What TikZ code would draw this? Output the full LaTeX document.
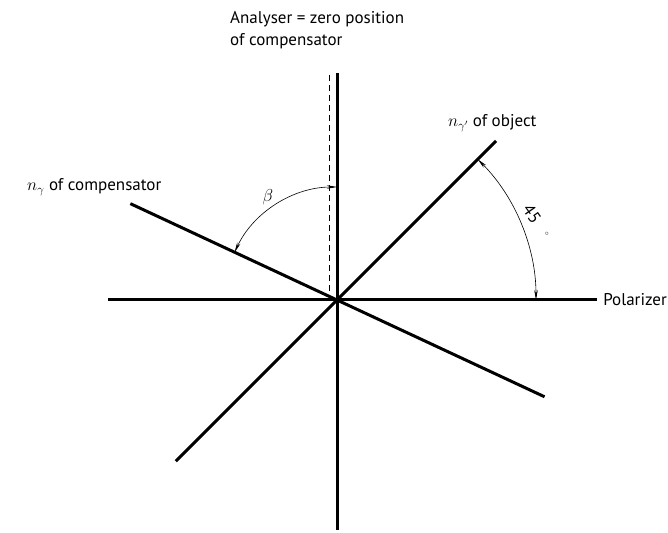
\documentclass[tikz,border=0pt]{standalone}
\usepackage{fontspec}
\setmainfont{PT Sans}
\usepackage{amsmath}
\usepackage{tikz}
\usetikzlibrary{arrows.meta}
\tikzset{
  every picture/.style={line join=round, >=Stealth},
  axis/.style={line width=3pt},
  angarc/.style={line width=0.6pt, {Stealth[length=10pt,width=3.5pt]}-{Stealth[length=10pt,width=3.5pt]}},
  lbl/.style={font=\fontsize{17}{22}\selectfont, inner sep=0pt},
}
\begin{document}
\begin{tikzpicture}[x=1pt,y=1pt]
\useasboundingbox (-337,-232) rectangle (331,300);
\coordinate (O) at (0,0);
\coordinate (polL) at (-229,0);
\coordinate (polR) at (260,0);
\coordinate (anaT) at (0,227);
\coordinate (anaB) at (0,-230);
\coordinate (zeroT) at (-8,225);
\coordinate (zeroB) at (-8,0);
\coordinate (compL) at (155:228);
\coordinate (compR) at (-25:229);
\coordinate (objT) at (45:225);
\coordinate (objB) at (225:228);
% axes
\draw[axis](polL)--(polR);
\draw[axis](anaT)--(anaB);
\draw[axis](compL)--(compR);
\draw[axis](objB)--(objT);
\draw[line width=1pt,dash pattern=on 6pt off 4pt](zeroT)--(zeroB);
% angles
\draw[angarc](90:113)arc[start angle=90,end angle=155,radius=113];
\draw[angarc](45:199)arc[start angle=45,end angle=0,radius=199];
\node[lbl] (beta) at (-69,103) {$\beta$};
\node[lbl,rotate=-55] (fortyfive) at (195,86) {45};
\node[lbl,font=\scriptsize] (deg) at (210,66) {$\circ$};
% labels
\node[lbl,anchor=west,align=left] (analyser) at (-107,270) {Analyser = zero position\\of compensator};
\node[lbl,anchor=west] (nobj) at (111,177) {$n_{\gamma'}$ of object};
\node[lbl,anchor=west] (ncomp) at (-310,113) {$n_{\gamma}$ of compensator};
\node[lbl,anchor=east] (polarizer) at (330,0) {Polarizer};
\end{tikzpicture}
\end{document}
